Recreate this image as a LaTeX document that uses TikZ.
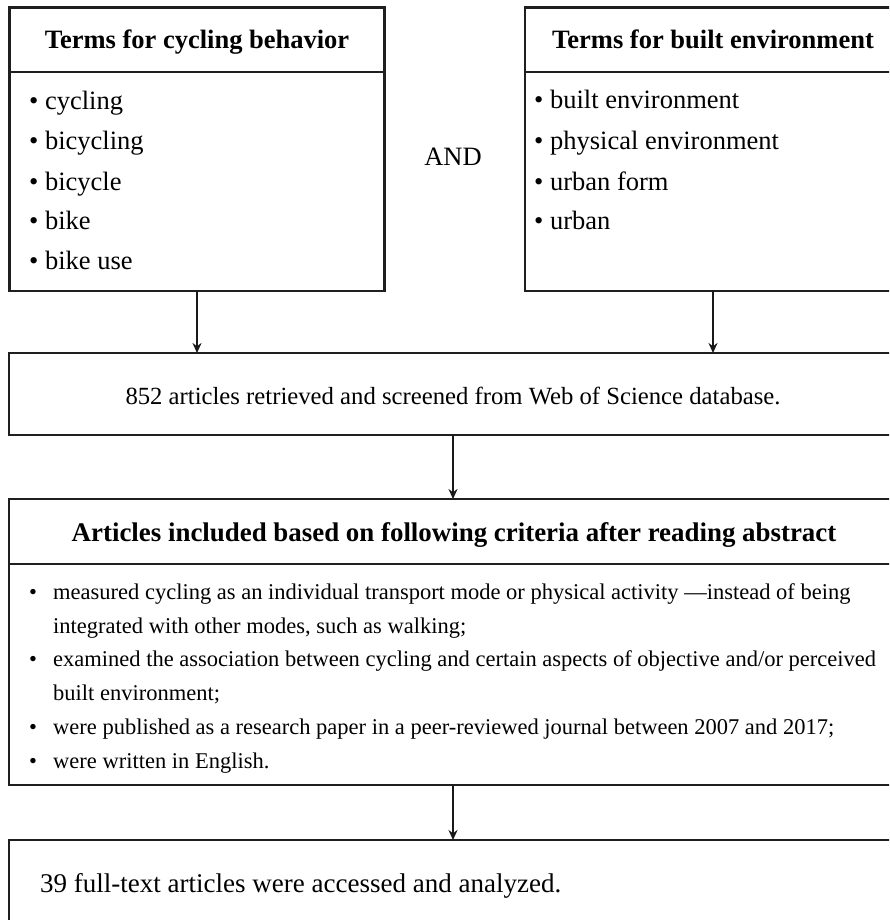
\documentclass[tikz,border=0pt]{standalone}
\usepackage{fontspec}
\setmainfont{Liberation Serif}
\usetikzlibrary{arrows.meta,calc}
\begin{document}
\begin{tikzpicture}[x=1pt,y=-1pt,
  box/.style={draw=black!88, line width=2.2pt, rectangle, inner sep=0pt, outer sep=0pt, anchor=north west},
  divider/.style={draw=black!88, line width=2.2pt},
  arr/.style={draw=black!90, line width=1.7pt, -{Stealth[length=10pt,width=9pt]}},
  hd/.style={font=\fontsize{26.5}{30}\selectfont\bfseries, inner sep=0pt, anchor=base},
  tx/.style={font=\fontsize{26.5}{30}\selectfont, inner sep=0pt, anchor=base west},
  txc/.style={font=\fontsize{26.5}{30}\selectfont, inner sep=0pt, anchor=base},
  cr/.style={font=\fontsize{22.5}{26}\selectfont, inner sep=0pt, anchor=base west},
]
\useasboundingbox (0,0) rectangle (889,920);
\clip (0,0) rectangle (889,920);
\fill[white] (0,0) rectangle (889,920);

% boxes
\node[box, minimum width=375pt, minimum height=283.5pt] (b1) at (9.5,7.5) {};
\node[box, minimum width=376pt, minimum height=283.5pt] (b1r) at (525,7.5) {};
\node[box, minimum width=888pt, minimum height=82pt] (b2) at (9,353) {};
\node[box, minimum width=888pt, minimum height=286pt] (b3) at (9,499) {};
\node[box, minimum width=888pt, minimum height=100pt] (b4) at (9,840) {};

% dividers
\draw[divider] (b1.west |- 0,72) -- (b1.east |- 0,72);
\draw[divider] (b1r.west |- 0,72) -- (b1r.east |- 0,72);
\draw[divider] (b3.west |- 0,564) -- (b3.east |- 0,564);

% headers
\node[hd] (h1) at (197,49) {Terms for cycling behavior};
\node[hd] (h2) at (713,49) {Terms for built environment};
\node[hd, font=\fontsize{26.9}{30}\selectfont\bfseries] (h3) at (454,541) {Articles included based on following criteria after reading abstract};

% left list
\node[tx] (l1) at (29,110) {\textbullet\ cycling};
\node[tx] (l2) at (29,150) {\textbullet\ bicycling};
\node[tx] (l3) at (29,190) {\textbullet\ bicycle};
\node[tx] (l4) at (29,229) {\textbullet\ bike};
\node[tx] (l5) at (29,269) {\textbullet\ bike use};

% right list
\node[tx] (r1) at (534,109) {\textbullet\ built environment};
\node[tx] (r2) at (534,150) {\textbullet\ physical environment};
\node[tx] (r3) at (534,190) {\textbullet\ urban form};
\node[tx] (r4) at (534,229) {\textbullet\ urban};

\node[txc] (and) at (453,166) {AND};

\node[txc, font=\fontsize{24.7}{28}\selectfont] (t2) at (453,404) {852 articles retrieved and screened from Web of Science database.};

% criteria
\node[cr] (c1) at (29,599) {\makebox[24pt][l]{\textbullet}measured cycling as an individual transport mode or physical activity ---instead of being};
\node[cr] (c1b) at (53,633) {integrated with other modes, such as walking;};
\node[cr] (c2) at (29,666) {\makebox[24pt][l]{\textbullet}examined the association between cycling and certain aspects of objective and/or perceived};
\node[cr] (c2b) at (53,700) {built environment;};
\node[cr] (c3) at (29,734) {\makebox[24pt][l]{\textbullet}were published as a research paper in a peer-reviewed journal between 2007 and 2017;};
\node[cr] (c4) at (29,768) {\makebox[24pt][l]{\textbullet}were written in English.};

\node[tx, font=\fontsize{27}{30}\selectfont] (t4) at (40,892) {39 full-text articles were accessed and analyzed.};

% arrows
\draw[arr] (b1.south) -- (b1.south |- b2.north);
\draw[arr] (b1r.south) -- (b1r.south |- b2.north);
\draw[arr] (b2.south) -- (b3.north);
\draw[arr] (b3.south) -- (b4.north);
\end{tikzpicture}
\end{document}
